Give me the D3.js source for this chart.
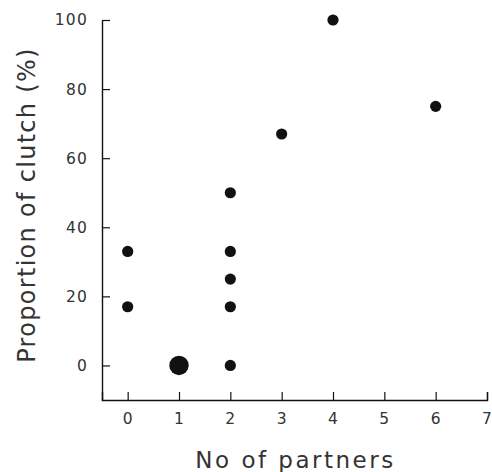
<!DOCTYPE html>
<html>
<head>
<meta charset="utf-8">
<script src="https://cdn.jsdelivr.net/npm/d3@7"></script>
<style>
  body { margin: 0; background: #fff; }
  text { font-family: "DejaVu Sans", "Liberation Sans", sans-serif; fill: #333; }
</style>
</head>
<body>
<div id="chart"></div>
<script>
// number of partners, % of clutch, and how many females share each point
const partners = [0, 0, 1, 2, 2, 2, 2, 2, 3, 4, 6];
const proportion = [33, 17, 0, 0, 17, 25, 33, 50, 67, 100, 75];
const count = [1, 1, 3, 1, 1, 1, 1, 1, 1, 1, 1];
const xTicks = [0, 1, 2, 3, 4, 5, 6, 7];
const yTicks = [0, 20, 40, 60, 80, 100];

const width = 492, height = 472;
const margin = { left: 102, right: 5, top: 20, bottom: 72 };

const svg = d3.select("#chart").append("svg")
  .attr("width", width)
  .attr("height", height);

const x = d3.scaleLinear().domain([-0.5, 7]).range([margin.left, width - margin.right]);
const y = d3.scaleLinear().domain([-10, 100]).range([height - margin.bottom, margin.top]);
const r = d3.scaleSqrt().domain([0, 1]).range([0, 5.6]);

// x axis, ticks pointing inward
const gx = svg.append("g")
  .attr("transform", "translate(0," + y(-10) + ")")
  .call(d3.axisBottom(x).tickValues(xTicks).tickSize(-8).tickPadding(13).tickSizeOuter(-8));
gx.selectAll(".tick text").attr("font-size", 15.5).style("letter-spacing", "1.2px");

// y axis
const gy = svg.append("g")
  .attr("transform", "translate(" + x(-0.5) + ",0)")
  .call(d3.axisLeft(y).tickValues(yTicks).tickSize(-8).tickPadding(14).tickSizeOuter(0));
gy.selectAll(".tick text").attr("font-size", 15.5).style("letter-spacing", "1.2px");

svg.selectAll(".domain").attr("stroke", "#111").attr("stroke-width", 1.4);
svg.selectAll(".tick line").attr("stroke", "#111").attr("stroke-width", 1.2);
svg.selectAll(".tick text").attr("fill", "#333");

// points
svg.append("g").selectAll("circle")
  .data(partners)
  .join("circle")
  .attr("cx", (d) => x(d))
  .attr("cy", (d, i) => y(proportion[i]))
  .attr("r", (d, i) => r(count[i]))
  .attr("fill", "#111");

// axis titles
svg.append("text")
  .attr("x", (x(-0.5) + x(7)) / 2 + 1)
  .attr("y", 468)
  .attr("text-anchor", "middle")
  .attr("font-size", 23)
  .style("letter-spacing", "2.5px")
  .text("No of partners");

svg.append("text")
  .attr("transform", "translate(35,205) rotate(-90)")
  .attr("text-anchor", "middle")
  .attr("font-size", 24)
  .style("letter-spacing", "1.3px")
  .text("Proportion of clutch (%)");
</script>
</body>
</html>
